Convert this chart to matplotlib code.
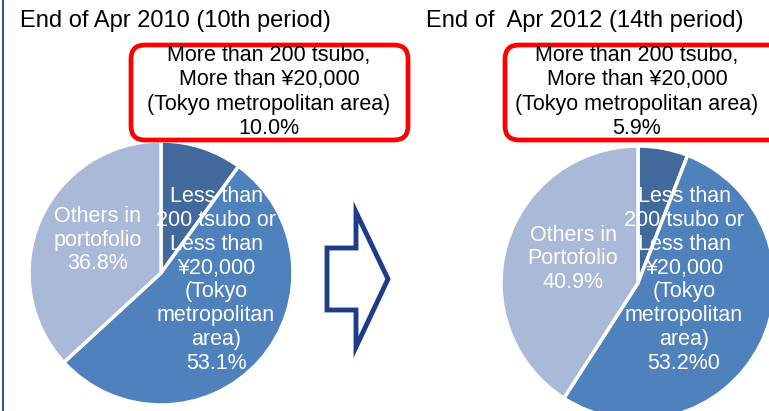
import matplotlib.pyplot as plt
from matplotlib.patches import FancyBboxPatch, Polygon

plt.rcParams['font.family'] = ['Liberation Sans', 'DejaVu Sans']

# data
titles = ['End of Apr 2010 (10th period)', 'End of  Apr 2012 (14th period)']
big_share = [10.0, 5.9]      # More than 200 tsubo, more than 20,000 yen (Tokyo)
small_share = [53.1, 53.2]   # Less than 200 tsubo or less than 20,000 yen (Tokyo)
others_share = [36.8, 40.9]  # Others in portfolio
others_names = ['Others in\nportofolio', 'Others in\nPortofolio']
small_suffix = ['%', '%0']
colors = ['#41699C', '#4F81BD', '#A9B9D7']

W, H = 769, 411
fig = plt.figure(figsize=(W / 100, H / 100), dpi=100)
ax = fig.add_axes([0, 0, 1, 1])


def Y(y):
    # image pixel row -> plot coordinate
    return H - y


centers = [(161, 273), (638, 283)]
radii = [132, 137]
title_x = [20, 426]
box_x = [(131, 408), (505, 790)]
box_text_x = [269, 637]
small_lbl = [(216, 280), (684, 280)]
other_lbl = [(98, 240), (573, 259)]

for i in range(2):
    cx, cy = centers[i]
    ax.pie([big_share[i], small_share[i], others_share[i]], colors=colors,
           startangle=90, counterclock=False, radius=radii[i],
           center=(cx, Y(cy)), frame=True,
           wedgeprops=dict(edgecolor='white', linewidth=2.5))

    ax.text(title_x[i], Y(21), titles[i], fontsize=17, ha='left', va='center')

    x0, x1 = box_x[i]
    ax.add_patch(FancyBboxPatch((x0, Y(140)), x1 - x0, 95,
                                boxstyle='round,pad=0,rounding_size=14',
                                facecolor='white', edgecolor='#FF0000',
                                linewidth=3.4, zorder=3))
    ax.text(box_text_x[i], Y(92),
            'More than 200 tsubo,\nMore than \u00a520,000\n(Tokyo metropolitan area)\n'
            f'{big_share[i]:.1f}%',
            fontsize=15.5, ha='center', va='center', linespacing=1.2, zorder=4)

    ax.text(small_lbl[i][0], Y(small_lbl[i][1]),
            'Less than\n200 tsubo or\nLess than\n\u00a520,000\n(Tokyo\nmetropolitan\narea)\n'
            f'{small_share[i]:.1f}{small_suffix[i]}',
            fontsize=15.5, color='white', ha='center', va='center', linespacing=1.17)
    ax.text(other_lbl[i][0], Y(other_lbl[i][1]),
            f'{others_names[i]}\n{others_share[i]:.1f}%',
            fontsize=15.5, color='white', ha='center', va='center', linespacing=1.17)

# hollow arrow between the two pies
arrow = [(327, 248), (356, 248), (356, 212), (388, 279), (356, 347),
         (356, 310), (327, 310)]
ax.add_patch(Polygon([(x, Y(y)) for x, y in arrow], closed=True,
                     facecolor='white', edgecolor='#1F3C88', linewidth=3.5,
                     joinstyle='miter'))

# left frame line
ax.plot([2.5, 2.5], [0, H], color='#2E5597', linewidth=1.5)

ax.set_xlim(0, W)
ax.set_ylim(0, H)
ax.set_aspect('equal')
ax.axis('off')

fig.savefig('out.png', dpi=100)
